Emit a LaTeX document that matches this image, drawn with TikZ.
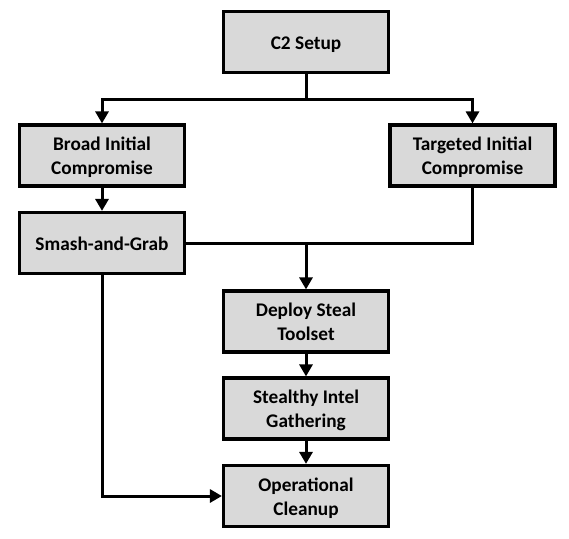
\documentclass[tikz,border=0pt]{standalone}
\usepackage{fontspec}
\setmainfont{Carlito}
\usetikzlibrary{arrows.meta}
\definecolor{boxgray}{HTML}{D9D9D9}
\newcommand{\boxtxt}[1]{\raisebox{-2.5pt}[\height][\depth]{\begin{tabular}{@{}c@{}}#1\end{tabular}}}
\tikzset{
  stepbox/.style={draw=black, line width=3.2pt, fill=boxgray, minimum width=165pt, minimum height=61pt,
    inner sep=0pt, align=center, font=\fontsize{19.3}{24}\selectfont\bfseries},
  conn/.style={line width=3pt, black},
  arr/.style={conn, -{Triangle[width=13pt,length=12pt]}}
}
\begin{document}
\begin{tikzpicture}[x=1pt,y=-1pt]
\useasboundingbox (0,0) rectangle (569,538);
\node[stepbox] (c2) at (306,42) {\boxtxt{C2 Setup}};
\node[stepbox] (broad) at (102,155.5) {\boxtxt{Broad Initial\\Compromise}};
\node[stepbox] (targ) at (472.5,155.5) {\boxtxt{Targeted Initial\\Compromise}};
\node[stepbox] (smash) at (102,243) {\boxtxt{Smash-and-Grab}};
\node[stepbox] (deploy) at (306,321.5) {\boxtxt{Deploy Steal\\Toolset}};
\node[stepbox] (stealth) at (306,408.5) {\boxtxt{Stealthy Intel\\Gathering}};
\node[stepbox] (oper) at (306,496) {\boxtxt{Operational\\Cleanup}};
\draw[conn] (c2.south) -- ++(0,25) coordinate (j);
\draw[arr] (j) -| (broad.north);
\draw[arr] (j) -| (targ.north);
\draw[arr] (broad) -- (smash);
\draw[conn] (smash.east) -| (targ.south);
\coordinate (k) at (deploy.north |- smash.east);
\draw[arr] (k) -- (deploy.north);
\draw[arr] (deploy) -- (stealth);
\draw[arr] (stealth) -- (oper);
\draw[arr] (smash.south) |- (oper.west);
\end{tikzpicture}
\end{document}
